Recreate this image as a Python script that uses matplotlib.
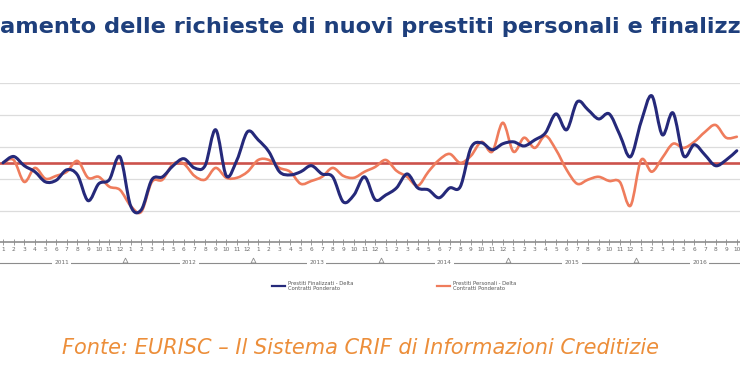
import numpy as np
import matplotlib
matplotlib.use("Agg")
import matplotlib.pyplot as plt
from matplotlib.path import Path
from matplotlib.patches import PathPatch
import matplotlib.transforms as mtransforms

# months from Jan 2011 to Oct 2016
years = [2011, 2012, 2013, 2014, 2015, 2016]
month_labels = [str(m) for m in range(1, 13)] * 5 + [str(m) for m in range(1, 11)]

finalizzati = [0.0, 2.0, -0.9, -2.8, -6.0, -5.5, -2.2, -3.8, -11.9, -6.6,
               -5.3, 1.9, -13.5, -14.8, -5.3, -4.4, -0.9, 1.3, -1.6, -0.9,
               10.4, -4.1, 0.9, 9.8, 7.2, 3.5, -2.8, -3.8, -2.8, -0.9,
               -3.5, -4.4, -12.3, -10.1, -4.4, -11.6, -10.1, -7.9, -3.5, -7.9,
               -8.5, -11.0, -7.9, -7.5, 4.7, 6.3, 4.1, 6.0, 6.6, 5.3,
               7.2, 9.4, 15.4, 10.4, 19.2, 16.7, 13.8, 15.4, 8.8, 1.9,
               12.9, 21.1, 8.8, 15.7, 2.2, 5.7, 2.5, -0.9, 0.9, 3.8]

personali = [0.0, 0.9, -6.0, -1.6, -5.0, -4.1, -2.8, 0.6, -4.7, -4.4,
             -7.5, -8.5, -13.5, -15.4, -6.0, -5.3, -0.3, -0.3, -4.1, -5.3,
             -1.6, -4.7, -4.7, -2.8, 0.9, 0.9, -1.6, -2.8, -6.6, -5.7,
             -4.4, -1.6, -4.1, -4.7, -2.8, -1.3, 0.9, -2.5, -4.4, -7.2,
             -2.8, 0.9, 2.8, 0.0, 2.2, 6.6, 3.5, 12.6, 3.5, 7.9,
             4.7, 8.5, 4.1, -2.2, -6.6, -5.3, -4.4, -5.7, -6.0, -13.5,
             0.9, -2.8, 1.6, 6.0, 4.7, 6.6, 9.7, 11.9, 7.9, 8.2]

media = 0.0

BLUE = "#25297a"
ORANGE = "#ef7c5c"
RED = "#cc524b"


def smooth_path(xs, ys):
    # excel-like smoothed line: catmull-rom segments as cubic beziers
    p = np.column_stack([xs, ys]).astype(float)
    verts = [p[0]]
    codes = [Path.MOVETO]
    n = len(p)
    for i in range(n - 1):
        p0 = p[i - 1] if i > 0 else p[i]
        p3 = p[i + 2] if i + 2 < n else p[i + 1]
        c1 = p[i] + (p[i + 1] - p0) / 6
        c2 = p[i + 1] - (p3 - p[i]) / 6
        verts += [c1, c2, p[i + 1]]
        codes += [Path.CURVE4] * 3
    return Path(verts, codes)


fig = plt.figure(figsize=(7.4, 3.89), dpi=100)
ax = fig.add_axes([0, 0.3787, 1, 0.4087])
x = np.arange(len(finalizzati))

ax.set_xlim(-0.28, 69.3)
ax.set_ylim(-24.8, 25.2)

for g in [-15, -5, 5, 15, 25]:
    ax.axhline(g, color="#dcdcdc", lw=0.9, zorder=0)

ax.axhline(media, color=RED, lw=1.9, zorder=1)
ax.add_patch(PathPatch(smooth_path(x, personali), fill=False, edgecolor=ORANGE,
                       lw=1.9, capstyle="round", joinstyle="round", zorder=2))
ax.add_patch(PathPatch(smooth_path(x, finalizzati), fill=False, edgecolor=BLUE,
                       lw=2.2, capstyle="round", joinstyle="round", zorder=3))

for s in ["top", "left", "right"]:
    ax.spines[s].set_visible(False)
ax.spines["bottom"].set_color("#8c8c8c")
ax.spines["bottom"].set_linewidth(1.2)
ax.set_yticks([])
ax.set_xticks(x)
ax.set_xticklabels(month_labels, fontsize=4.2, color="#6a6a6a")
ax.tick_params(axis="x", direction="inout", length=4, width=0.6, color="#8c8c8c", pad=1.5)

# year row under the month labels
trans = mtransforms.blended_transform_factory(ax.transData, ax.transAxes)
yrow = -0.134
ax.plot([-0.28, 69.3], [yrow, yrow], transform=trans, color="#8c8c8c", lw=0.8, clip_on=False)
for k, yr in enumerate(years):
    ax.text(12 * k + 5.5, yrow, str(yr), transform=trans, fontsize=4.2, color="#6a6a6a",
            ha="center", va="center", bbox=dict(facecolor="white", edgecolor="none", pad=1.5))
for k in range(1, len(years)):
    ax.plot([12 * k - 0.5], [yrow + 0.02], transform=trans, marker="^", ms=3.5,
            fillstyle="none", color="#8c8c8c", mew=0.6, clip_on=False)

# legend
fig.lines.append(plt.Line2D([272 / 740, 285 / 740], [1 - 286 / 389] * 2, transform=fig.transFigure,
                            color=BLUE, lw=1.6))
fig.text(288 / 740, 1 - 286 / 389, "Prestiti Finalizzati - Delta\nContratti Ponderato",
         fontsize=3.8, color="#555555", va="center", linespacing=1.1)
fig.lines.append(plt.Line2D([437 / 740, 450 / 740], [1 - 286 / 389] * 2, transform=fig.transFigure,
                            color=ORANGE, lw=1.6))
fig.text(453 / 740, 1 - 286 / 389, "Prestiti Personali - Delta\nContratti Ponderato",
         fontsize=3.8, color="#555555", va="center", linespacing=1.1)

fig.text(0, 1 - 27 / 389, "amento delle richieste di nuovi prestiti personali e finalizz",
         fontsize=16.2, fontweight="bold", color="#1e3f7c", va="center", ha="left")
fig.text(62 / 740, 1 - 348 / 389, "Fonte: EURISC \u2013 Il Sistema CRIF di Informazioni Creditizie",
         fontsize=15, style="italic", color="#ec8e3a", va="center", ha="left")

fig.savefig("out.png", dpi=100)
